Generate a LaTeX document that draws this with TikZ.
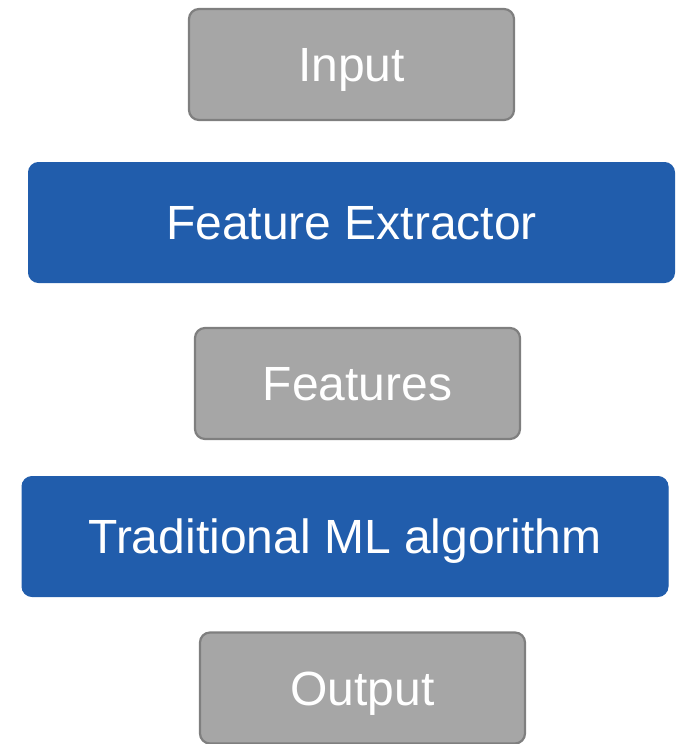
\documentclass[tikz,border=0pt]{standalone}
\usepackage{fontspec}
\setmainfont{Liberation Sans}
\definecolor{boxgray}{HTML}{A6A6A6}
\definecolor{edgegray}{HTML}{7F7F7F}
\definecolor{stageblue}{HTML}{215DAC}
\begin{document}
\begin{tikzpicture}[x=1pt,y=-1pt,
  every node/.style={font=\fontsize{48}{58}\selectfont, text=white,
    text height=34pt, text depth=0pt, inner sep=0pt, rounded corners=10pt},
  databox/.style={fill=boxgray, draw=edgegray, line width=2.2pt,
    minimum width=325pt, minimum height=111pt},
  stagebox/.style={fill=stageblue, draw=stageblue, line width=1pt,
    minimum width=646pt, minimum height=120pt}]
  \useasboundingbox (0,0) rectangle (680,744);
  \node[databox]  (input)    at (351.5,64.5)  {Input};
  \node[stagebox] (extract)  at (351.5,222.5) {Feature Extractor};
  \node[databox]  (features) at (357.5,383.5) {Features};
  \node[stagebox] (mlalg)    at (345,536.5)   {Traditional ML algorithm};
  \node[databox]  (output)   at (362.5,688)   {Output};
\end{tikzpicture}
\end{document}
